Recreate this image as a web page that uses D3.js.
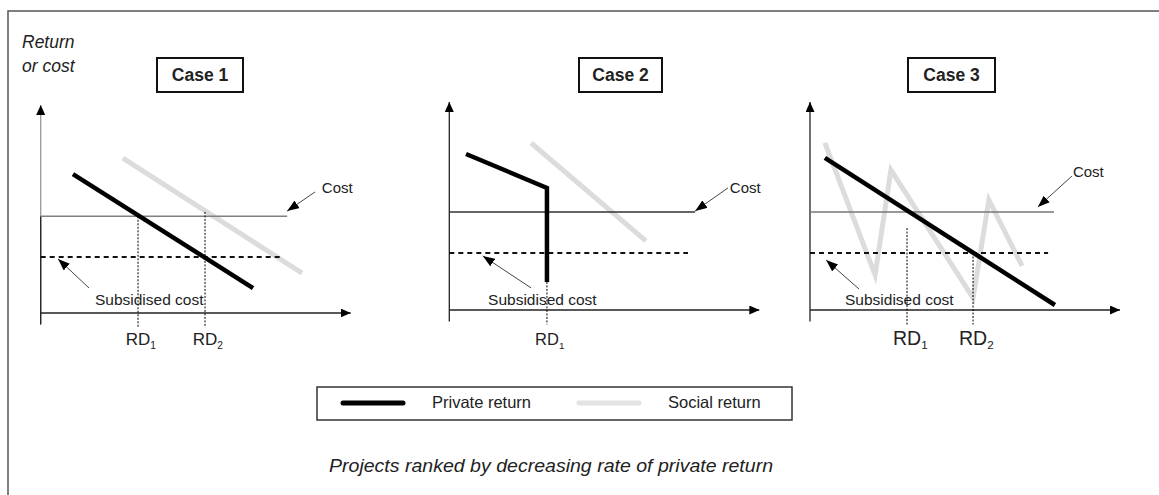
<!DOCTYPE html>
<html>
<head>
<meta charset="utf-8">
<script src="https://cdn.jsdelivr.net/npm/d3@7"></script>
<style>
  body { margin: 0; background: #fff; }
  text { font-family: "Liberation Sans", Arial, sans-serif; fill: #222; }
</style>
</head>
<body>
<div id="chart"></div>
<script>
// ---- data (abstract units, 0..10 on both axes of each panel) ----
var cases = ["Case 1", "Case 2", "Case 3"];
var costLevel = [4.65, 4.71, 4.71];
var costEnd = [7.95, 7.93, 7.87];
var subsidisedLevel = [2.69, 2.74, 2.74];
var subsidisedEnd = [7.72, 7.70, 7.68];
var privateReturn = [
  [[1.04, 6.68], [6.85, 1.20]],
  [[0.54, 7.50], [3.15, 5.87], [3.15, 1.35]],
  [[0.48, 7.31], [7.90, 0.24]]
];
var socialReturn = [
  [[2.65, 7.45], [8.43, 1.92]],
  [[2.64, 8.03], [6.34, 3.32]],
  [[0.48, 8.03], [2.10, 1.68], [2.61, 6.73], [5.26, 0.58], [5.77, 5.29], [6.84, 2.12]]
];
var rdPositions = [[3.14, 5.30], [3.15], [3.13, 5.26]];
var rdTops = [[4.65, 4.86], [1.35], [3.94, 2.74]];
var rdSubscripts = [["1", "2"], ["1"], ["1", "2"]];
var legendItems = ["Private return", "Social return"];

// ---- layout ----
var width = 1159, height = 495;
var panelOrigin = [[40.7, 313], [449.3, 310], [810, 310]];
var unitX = 31, unitY = 20.8;
var caseBoxX = [[157, 243], [579, 662], [908, 995]];
var costColor = ["#808080", "#333", "#777"];
var rdFont = [17, 16.5, 19.5];
var costNote = [
  {text: [9.07, 5.77], from: [8.85, 5.82], to: [7.95, 4.90]},
  {text: [9.05, 5.63], from: [8.99, 5.87], to: [7.93, 4.76]},
  {text: [8.48, 6.39], from: [8.45, 6.44], to: [7.35, 4.95]}
];
var subNote = [
  {text: [1.75, 0.38], from: [1.56, 1.20], to: [0.56, 2.60]},
  {text: [1.25, 0.24], from: [2.64, 1.06], to: [1.08, 2.60]},
  {text: [1.13, 0.24], from: [1.58, 1.01], to: [0.52, 2.40]}
];

var svg = d3.select("#chart").append("svg")
    .attr("width", width)
    .attr("height", height);

var defs = svg.append("defs");
function marker(id, len, wid) {
  defs.append("marker")
      .attr("id", id)
      .attr("markerUnits", "userSpaceOnUse")
      .attr("viewBox", "0 0 " + len + " " + wid)
      .attr("refX", len).attr("refY", wid / 2)
      .attr("markerWidth", len).attr("markerHeight", wid)
      .attr("orient", "auto")
    .append("path")
      .attr("d", "M0,0L" + len + "," + (wid / 2) + "L0," + wid + "Z")
      .attr("fill", "#000");
}
marker("axisArrow", 10, 9);
marker("noteArrow", 12, 9);

// outer frame
svg.append("rect")
    .attr("x", 8).attr("y", 11)
    .attr("width", 1200).attr("height", 600)
    .attr("fill", "none")
    .attr("stroke", "#555")
    .attr("stroke-width", 1.5);

svg.append("text").attr("x", 22).attr("y", 48)
    .attr("font-size", "17.5px").attr("font-style", "italic").text("Return");
svg.append("text").attr("x", 22).attr("y", 72)
    .attr("font-size", "17.5px").attr("font-style", "italic").text("or cost");

cases.forEach(function(name, i) {
  var x = d3.scaleLinear().domain([0, 10])
      .range([panelOrigin[i][0], panelOrigin[i][0] + 10 * unitX]);
  var y = d3.scaleLinear().domain([0, 10])
      .range([panelOrigin[i][1], panelOrigin[i][1] - 10 * unitY]);
  var line = d3.line()
      .x(function(d) { return x(d[0]); })
      .y(function(d) { return y(d[1]); });

  var g = svg.append("g").attr("class", "panel");

  // case title box
  var bx = caseBoxX[i];
  g.append("rect")
      .attr("x", bx[0]).attr("y", 58)
      .attr("width", bx[1] - bx[0]).attr("height", 34)
      .attr("fill", "#fff").attr("stroke", "#111").attr("stroke-width", 2);
  g.append("text")
      .attr("x", (bx[0] + bx[1]) / 2).attr("y", 81)
      .attr("text-anchor", "middle")
      .attr("font-size", "17.5px").attr("font-weight", "bold")
      .text(name);

  // axes (case 1's vertical axis is lighter above the cost line)
  g.append("path")
      .attr("d", line([[0, -0.55], [0, 10]]))
      .attr("stroke", i === 0 ? "#999" : "#222").attr("stroke-width", 1.3).attr("fill", "none")
      .attr("marker-end", "url(#axisArrow)");
  if (i === 0) {
    g.append("path")
        .attr("d", line([[0, -0.55], [0, costLevel[i]]]))
        .attr("stroke", "#222").attr("stroke-width", 1.3).attr("fill", "none");
  }
  g.append("path")
      .attr("d", line([[0, 0], [10, 0]]))
      .attr("stroke", "#222").attr("stroke-width", 1.3).attr("fill", "none")
      .attr("marker-end", "url(#axisArrow)");

  // social return
  g.append("path")
      .attr("d", line(socialReturn[i]))
      .attr("stroke", "#dcdcdc").attr("stroke-width", 5)
      .attr("stroke-linejoin", "miter").attr("fill", "none");

  // cost line
  g.append("path")
      .attr("d", line([[0, costLevel[i]], [costEnd[i], costLevel[i]]]))
      .attr("stroke", costColor[i]).attr("stroke-width", 1.4).attr("fill", "none");

  // subsidised cost
  g.append("path")
      .attr("d", line([[0, subsidisedLevel[i]], [subsidisedEnd[i], subsidisedLevel[i]]]))
      .attr("stroke", "#111").attr("stroke-width", 2)
      .attr("stroke-dasharray", "5,4").attr("fill", "none");

  // RD markers
  rdPositions[i].forEach(function(rd, j) {
    g.append("path")
        .attr("d", line([[rd, rdTops[i][j]], [rd, -0.7]]))
        .attr("stroke", "#000").attr("stroke-width", 1)
        .attr("stroke-dasharray", "2,1.5").attr("fill", "none");
    var t = g.append("text")
        .attr("x", x(rd) - rdFont[i] * 0.72).attr("y", 345)
        .attr("font-size", rdFont[i] + "px");
    t.append("tspan").text("RD");
    t.append("tspan")
        .attr("font-size", (rdFont[i] * 0.6) + "px")
        .attr("dy", 4)
        .text(rdSubscripts[i][j]);
  });

  // private return
  g.append("path")
      .attr("d", line(privateReturn[i]))
      .attr("stroke", "#000").attr("stroke-width", 4.5)
      .attr("stroke-linejoin", "miter").attr("fill", "none");

  // annotations
  var c = costNote[i];
  g.append("path")
      .attr("d", line([c.from, c.to]))
      .attr("stroke", "#444").attr("stroke-width", 1).attr("fill", "none")
      .attr("marker-end", "url(#noteArrow)");
  g.append("text")
      .attr("x", x(c.text[0])).attr("y", y(c.text[1]))
      .attr("font-size", "15px").attr("fill", "#333")
      .text("Cost");

  var s = subNote[i];
  g.append("path")
      .attr("d", line([s.from, s.to]))
      .attr("stroke", "#444").attr("stroke-width", 1).attr("fill", "none")
      .attr("marker-end", "url(#noteArrow)");
  g.append("text")
      .attr("x", x(s.text[0])).attr("y", y(s.text[1]))
      .attr("font-size", "15.5px").attr("fill", "#333")
      .text("Subsidised cost");
});

// legend
var legend = svg.append("g");
legend.append("rect")
    .attr("x", 317).attr("y", 387)
    .attr("width", 475).attr("height", 33)
    .attr("fill", "#fff").attr("stroke", "#333").attr("stroke-width", 1.5);
var legendX = d3.scalePoint().domain(legendItems).range([343, 579]);
legend.selectAll(".key")
    .data(legendItems)
  .enter().append("line")
    .attr("class", "key")
    .attr("x1", function(d) { return legendX(d); })
    .attr("x2", function(d) { return legendX(d) + 60; })
    .attr("y1", 403).attr("y2", 403)
    .attr("stroke", function(d, i) { return i === 0 ? "#000" : "#e3e3e3"; })
    .attr("stroke-width", 5)
    .attr("stroke-linecap", "round");
legend.selectAll(".lab")
    .data(legendItems)
  .enter().append("text")
    .attr("class", "lab")
    .attr("x", function(d) { return legendX(d) + 89; })
    .attr("y", 408)
    .attr("font-size", "16.5px")
    .text(function(d) { return d; });

svg.append("text")
    .attr("x", 551).attr("y", 472)
    .attr("text-anchor", "middle")
    .attr("font-size", "18px").attr("font-style", "italic").attr("fill", "#333")
    .attr("textLength", 444).attr("lengthAdjust", "spacingAndGlyphs")
    .text("Projects ranked by decreasing rate of private return");
</script>
</body>
</html>
